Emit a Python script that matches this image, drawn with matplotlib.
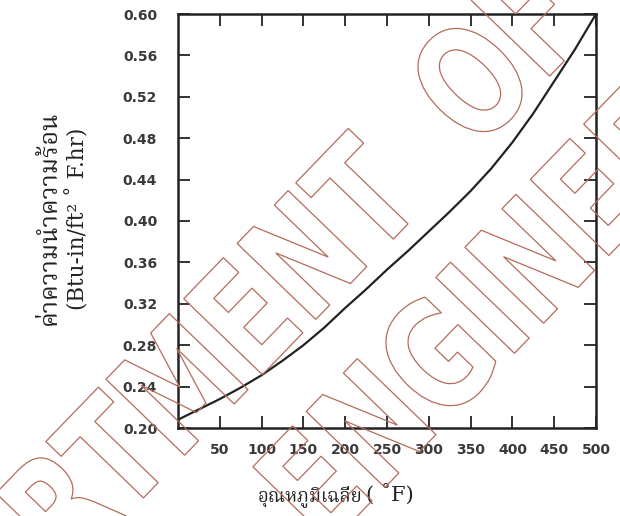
"""Thermal conductivity vs mean temperature, scanned-chart look with watermark."""

import matplotlib

matplotlib.use("Agg")
import matplotlib.pyplot as plt
from matplotlib.font_manager import FontProperties
from matplotlib.patches import PathPatch
from matplotlib.textpath import TextPath
from matplotlib.transforms import Affine2D, IdentityTransform

# mean temperature (F) and conductivity (Btu-in/ft2 F hr)
temp_f = [0, 25, 50, 75, 100, 125, 150, 175, 200, 225, 250, 275, 300,
          325, 350, 375, 400, 425, 450, 475, 500]
conductivity = [0.208, 0.218, 0.228, 0.239, 0.251, 0.265, 0.280, 0.297, 0.316,
                0.334, 0.353, 0.371, 0.390, 0.409, 0.429, 0.451, 0.476, 0.504,
                0.535, 0.566, 0.600]

x_ticks = [50, 100, 150, 200, 250, 300, 350, 400, 450, 500]
y_ticks = [0.20, 0.24, 0.28, 0.32, 0.36, 0.40, 0.44, 0.48, 0.52, 0.56, 0.60]

y_title = "ค่าความนำความร้อน"
y_units = "(Btu-in/ft² ˚ F.hr)"
x_title = "อุณหภูมิเฉลี่ย"
x_units = "( ˚F)"

THAI = ["Noto Serif Thai", "Noto Sans Thai", "Norasi", "Loma", "Garuda",
        "Tlwg Typo", "Liberation Serif", "DejaVu Sans"]
SERIF = ["DejaVu Serif", "Liberation Serif"]
INK = "#222222"
MARK = "#b36c5c"
W, H = 620, 516

fig = plt.figure(figsize=(W / 100, H / 100), dpi=100)
fig.patch.set_facecolor("white")
ax = fig.add_axes([178 / W, 1 - 428 / H, (596 - 178) / W, (428 - 14) / H])

ax.plot(temp_f, conductivity, color=INK, linewidth=1.6, solid_capstyle="round")

ax.set_xlim(0, 500)
ax.set_ylim(0.20, 0.60)
ax.set_xticks(x_ticks)
ax.set_yticks(y_ticks)
ax.set_xticklabels([str(t) for t in x_ticks])
ax.set_yticklabels([f"{t:.2f}" for t in y_ticks])
ax.tick_params(direction="in", length=8.5, width=1.3, color=INK,
               top=True, right=True, labelsize=10, labelcolor="#3a3a3a")
ax.tick_params(axis="x", pad=11)
ax.tick_params(axis="y", pad=15)
for lab in ax.get_xticklabels() + ax.get_yticklabels():
    lab.set_fontweight("bold")
for side in ax.spines.values():
    side.set_linewidth(1.8)
    side.set_color(INK)

fig.text(49 / W, 1 - 218 / H, y_title, rotation=90, ha="center", va="center",
         fontsize=18, color=INK, family=THAI)
fig.text(78 / W, 1 - 219 / H, y_units, rotation=90, ha="center", va="center",
         fontsize=15.5, color=INK, family=SERIF)
fig.text(362 / W, 1 - 496 / H, x_title, ha="right", va="center",
         fontsize=13.5, color=INK, family=THAI)
fig.text(366 / W, 1 - 494 / H, x_units, ha="left", va="center",
         fontsize=15, color=INK, family=SERIF)


# outlined, condensed watermark; anchor = centre of the prefix's last letter
def watermark(text, prefix, target, size=150, squeeze=0.75, angle=46):
    prop = FontProperties(family="DejaVu Sans", weight="bold")
    path = TextPath((0, 0), text, size=size, prop=prop)
    head = TextPath((0, 0), prefix, size=size, prop=prop).get_extents()
    last = TextPath((0, 0), prefix[-1], size=size, prop=prop).get_extents()
    cx, cy = head.x1 - last.width / 2, (last.y0 + last.y1) / 2
    tr = (Affine2D().translate(-cx, -cy).scale(squeeze, 1).rotate_deg(angle)
          .translate(target[0], H - target[1]))
    patch = PathPatch(tr.transform_path(path), facecolor="none", edgecolor=MARK,
                      linewidth=0.9, transform=IdentityTransform(), zorder=10)
    fig.add_artist(patch)


watermark("DEPARTMENT", "DEPARTMEN", (302, 255))
watermark("OF", "O", (470, 80))
watermark("ENGINEERING", "ENG", (435, 357))

fig.savefig("out.png", dpi=100, facecolor="white")
